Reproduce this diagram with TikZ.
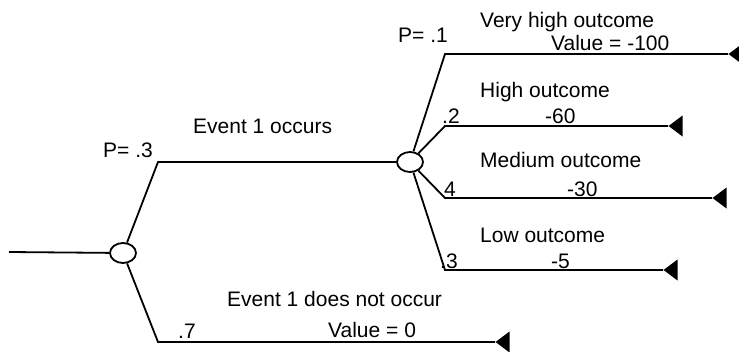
\documentclass[tikz,border=0pt]{standalone}
\usepackage{fontspec}
\setmainfont{Liberation Sans}
\usetikzlibrary{shapes.geometric}

\begin{document}
\begin{tikzpicture}[
  x=1pt, y=-1pt,
  chance/.style = {draw, ellipse, line width=1.8pt, minimum width=26pt, minimum height=20pt, inner sep=0pt},
  endpt/.style  = {fill, isosceles triangle, shape border rotate=180, isosceles triangle stretches,
                   minimum height=14pt, minimum width=21pt, inner sep=0pt, anchor=apex},
  branch/.style = {line width=1.8pt},
  lbl/.style    = {anchor=base west, inner sep=0pt, font=\fontsize{21}{25}\selectfont}
]
  \useasboundingbox (0,0) rectangle (739,351);

  % entry line and chance nodes
  \coordinate (start) at (9,252);
  \node[chance] (ev) at (123,253) {};
  \node[chance] (out) at (410,162) {};

  % Event 1 branches
  \coordinate (occ) at (158,162);
  \coordinate (nocc) at (158,342);
  \node[endpt] (nval) at (495,342) {};

  % outcome branches
  \coordinate (vh) at (445,54);
  \coordinate (hi) at (445,126);
  \coordinate (med) at (445,198);
  \coordinate (lo) at (445,270);
  \node[endpt] (vhval) at (728,54) {};
  \node[endpt] (hival) at (668,126) {};
  \node[endpt] (medval) at (712,198) {};
  \node[endpt] (loval) at (663,270) {};

  % connectors
  \draw[branch] (start) -- (ev);
  \draw[branch] (ev) -- (occ) -- (out);
  \draw[branch] (ev) -- (nocc) -- (nval.apex);
  \draw[branch] (out) -- (vh) -- (vhval.apex);
  \draw[branch] (out) -- (hi) -- (hival.apex);
  \draw[branch] (out) -- (med) -- (medval.apex);
  \draw[branch] (out) -- (lo) -- (loval.apex);

  % labels
  \node[lbl] (pocc) at (103,157) {P= .3};
  \node[lbl] (occtxt) at (193,133) {Event 1 occurs};
  \node[lbl] (nocctxt) at (227,306) {Event 1 does not occur};
  \node[lbl] (pnocc) at (178,338) {.7};
  \node[lbl] (noccval) at (328,337) {Value = 0};

  \node[lbl] (pvh) at (398,42) {P= .1};
  \node[lbl] (vhtxt) at (480,27) {Very high outcome};
  \node[lbl] (vhnum) at (551,50) {Value = -100};

  \node[lbl] (phi) at (442,123) {.2};
  \node[lbl] (hitxt) at (480,97) {High outcome};
  \node[lbl] (hinum) at (545,123) {-60};

  \node[lbl] (pmed) at (444,196) {4};
  \node[lbl] (medtxt) at (480,167) {Medium outcome};
  \node[lbl] (mednum) at (567,196) {-30};

  \node[lbl] (plo) at (440,268) {.3};
  \node[lbl] (lotxt) at (480,242) {Low outcome};
  \node[lbl] (lonum) at (551,268) {-5};
\end{tikzpicture}
\end{document}
